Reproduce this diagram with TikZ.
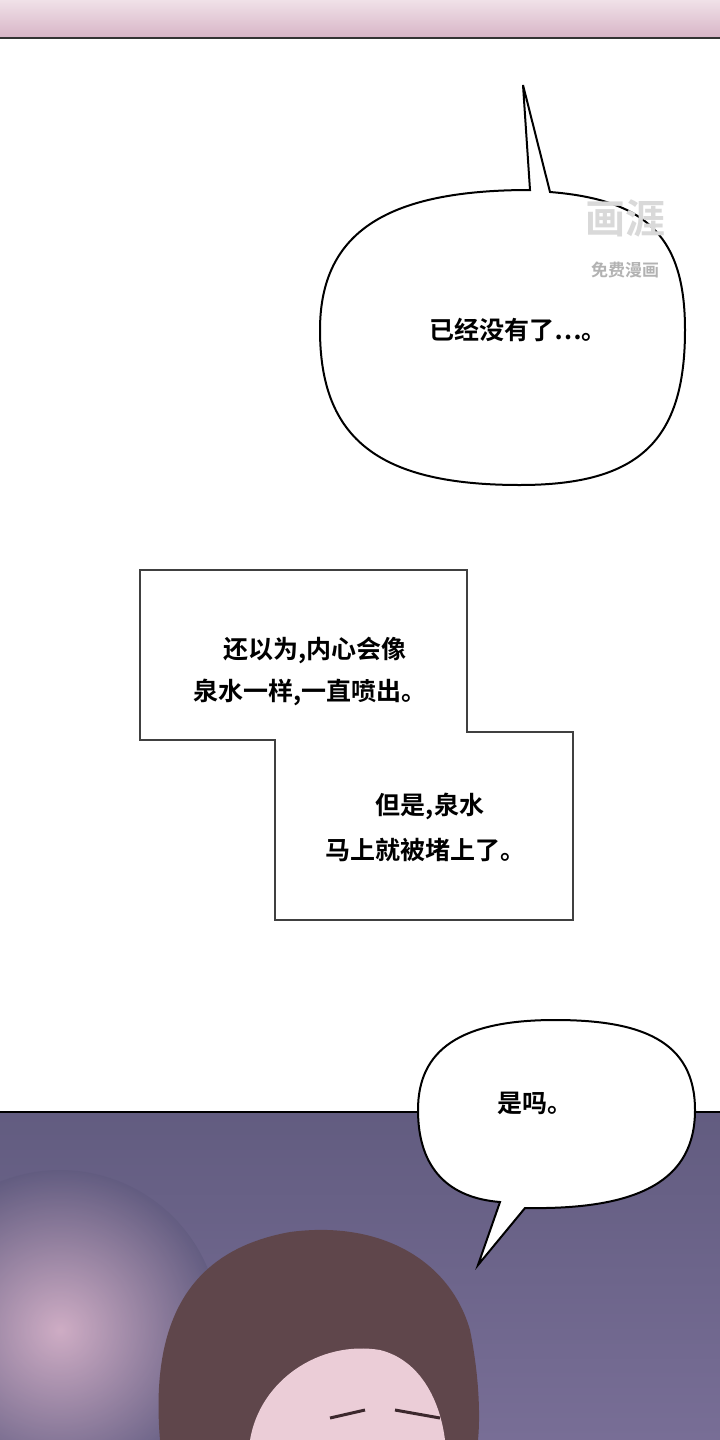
\documentclass[tikz,border=0pt]{standalone}
\usepackage{fontspec}
\newfontfamily\cjk{Noto Sans CJK SC Bold}
\definecolor{bgtop}{RGB}{98,92,128}
\definecolor{bgbot}{RGB}{120,110,150}
\definecolor{glow}{RGB}{230,190,210}
\definecolor{hair}{RGB}{95,70,75}
\definecolor{skin}{RGB}{235,205,215}
\definecolor{brow}{RGB}{60,40,45}
\definecolor{stripa}{RGB}{240,225,232}
\definecolor{stripb}{RGB}{215,180,198}
\begin{document}
\begin{tikzpicture}[x=1pt,y=-1pt,
  bub/.style={draw=black,line width=2pt,fill=white},
  txt/.style={font=\cjk\fontsize{25}{30}\selectfont,text=black,inner sep=0pt},
  capbox/.style={draw=black!75,line width=1.5pt,fill=white}]
\useasboundingbox (0,0) rectangle (720,1440);
\fill[white] (0,0) rectangle (720,1440);
% top strip
\shade[top color=stripa,bottom color=stripb] (0,0) rectangle (720,38);
\draw[black!80,line width=1.5pt] (0,38) -- (720,38);
% bottom panel
\shade[top color=bgtop,bottom color=bgbot] (0,1112) rectangle (720,1440);
\begin{scope}
\clip (0,1112) rectangle (720,1440);
\shade[inner color=glow,outer color=bgtop,opacity=0.8] (60,1330) circle (160);
\fill[hair] (160,1440) .. controls (150,1320) and (190,1250) .. (290,1232) .. controls (380,1220) and (450,1260) .. (470,1330) .. controls (480,1380) and (480,1420) .. (478,1440) -- cycle;
\fill[skin] (250,1440) .. controls (260,1380) and (320,1340) .. (380,1350) .. controls (420,1360) and (440,1400) .. (445,1440) -- cycle;
\draw[brow,line width=3pt] (330,1418) -- (365,1410);
\draw[brow,line width=3pt] (395,1410) -- (440,1418);
\end{scope}
\draw[black,line width=1.5pt] (0,1112) -- (720,1112);
% bubble 1
\draw[bub] (530,190) -- (523,85) -- (550,192)
  .. controls (650,200) and (685,240) .. (685,330)
  .. controls (685,440) and (640,485) .. (520,485)
  .. controls (380,485) and (320,440) .. (320,330)
  .. controls (320,230) and (390,190) .. (530,190) -- cycle;
\node[txt] (t1) at (518,330) {已经没有了…。};
% watermark
\node[font=\cjk\fontsize{40}{40}\selectfont,text=black!15] (wm) at (625,218) {画涯};
\node[font=\cjk\fontsize{17}{17}\selectfont,text=black!30] (wm2) at (625,270) {免费漫画};
% caption
\draw[capbox] (140,570) -- (467,570) -- (467,732) -- (573,732) -- (573,920) -- (275,920) -- (275,740) -- (140,740) -- cycle;
\node[txt] (c1) at (315,650) {还以为,内心会像};
\node[txt] (c2) at (310,692) {泉水一样,一直喷出。};
\node[txt] (c3) at (430,806) {但是,泉水};
\node[txt] (c4) at (425,850) {马上就被堵上了。};
% bubble 2
\draw[bub] (500,1202) -- (478,1265) -- (525,1208)
  .. controls (640,1210) and (695,1180) .. (695,1110)
  .. controls (695,1040) and (640,1020) .. (555,1020)
  .. controls (460,1020) and (418,1050) .. (418,1110)
  .. controls (418,1170) and (450,1198) .. (500,1202) -- cycle;
\node[txt] (t2) at (535,1103) {是吗。};
\end{tikzpicture}
\end{document}
